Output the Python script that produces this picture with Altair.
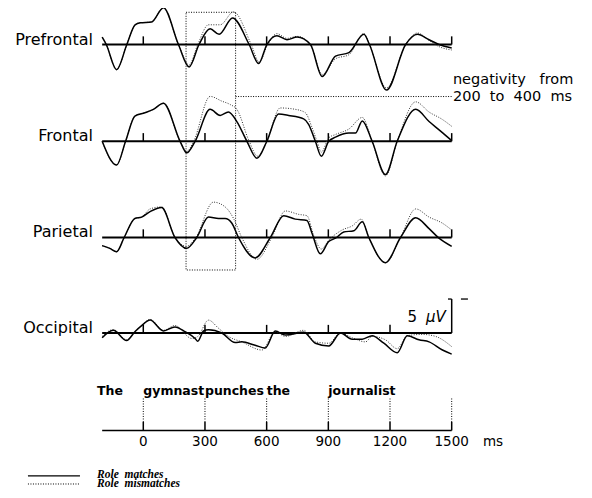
import altair as alt
import pandas as pd

# ---------------- data (time in ms, amplitude in microvolts; negative plotted up) -------------
REGIONS = ["Prefrontal", "Frontal", "Parietal", "Occipital"]
OFFSETS = [66.69, 52.46, 38.31, 24.26]   # vertical placement of each panel baseline

PF_S_T = [-200, -180, -130, -80, -40, -15, 40, 98, 171, 223, 271, 325, 369, 434, 515, 561, 601, 650, 699, 748, 813, 870, 935, 1000, 1073, 1100, 1183, 1276, 1333, 1390, 1438, 1500]
PF_S_V = [-1.1, 0.0, 3.7, 0.0, -2.9, -3.2, -3.3, -5.4, 0.0, 3.3, 0.0, -2.3, -1.5, -3.9, 0.0, 2.8, 0.0, -1.3, -0.7, -1.1, 0.0, 4.7, 1.7, 1.2, -1.5, 0.0, 6.7, 0.0, -1.5, -0.7, 0.0, 0.5]
PF_D_T = [-200, -180, -130, -80, -40, -15, 40, 98, 171, 223, 265, 317, 374, 439, 525, 564, 605, 650, 699, 748, 813, 870, 935, 1000, 1073, 1100, 1183, 1276, 1333, 1390, 1438, 1500]
PF_D_V = [-1.1, 0.0, 3.7, 0.0, -2.9, -3.2, -3.3, -5.4, 0.0, 3.0, 0.0, -2.9, -2.9, -4.8, 0.0, 2.6, 0.0, -1.6, -0.9, -1.2, 0.0, 4.4, 2.1, 1.5, -1.6, 0.0, 6.4, 0.0, -1.7, -0.6, 0.3, 0.8]

FR_S_T = [-200, -130, -86, -41, 8, 49, 98, 179, 211, 252, 325, 374, 414, 455, 504, 553, 601, 658, 707, 780, 804, 837, 866, 902, 935, 1000, 1032, 1065, 1113, 1178, 1235, 1325, 1390, 1446, 1500]
FR_S_V = [0.0, 3.5, 0.0, -3.7, -4.2, -4.7, -5.6, 0.0, 1.7, 0.0, -4.7, -3.8, -4.3, -2.9, 0.0, 2.5, 0.0, -4.0, -3.8, -3.3, -2.5, 0.0, 2.2, 0.0, -0.6, -1.2, -1.2, -3.0, 0.0, 4.9, 0.0, -4.7, -2.9, -1.5, -0.1]
FR_D_T = [-200, -130, -86, -41, 8, 49, 98, 179, 211, 245, 325, 382, 423, 455, 515, 556, 601, 666, 739, 788, 821, 845, 866, 902, 935, 1000, 1065, 1113, 1178, 1235, 1325, 1390, 1455, 1500]
FR_D_V = [0.0, 3.5, 0.0, -3.7, -4.2, -4.7, -5.6, 0.0, 1.5, 0.0, -6.6, -5.9, -5.4, -4.7, 0.0, 2.2, 0.0, -4.9, -4.7, -4.2, -2.0, 0.0, 1.6, -0.5, -1.0, -1.8, -3.5, 0.0, 5.1, 0.0, -5.8, -4.3, -3.2, -2.2]

PA_S_T = [-200, -163, -130, -93, -41, -8, 33, 89, 154, 211, 260, 317, 366, 398, 431, 463, 544, 618, 683, 739, 796, 821, 861, 902, 935, 975, 1024, 1065, 1097, 1178, 1251, 1325, 1390, 1438, 1500]
PA_S_V = [1.2, 1.6, 2.1, 0.0, -2.8, -3.0, -3.8, -4.4, 0.0, 1.6, 0.0, -3.0, -2.8, -2.8, -2.1, 0.0, 3.0, 0.0, -3.2, -2.7, -2.5, -0.6, 2.4, 0.6, 0.1, -0.8, -1.0, -2.3, 0.0, 3.7, 0.0, -2.9, -1.3, 0.1, 1.3]
PA_D_T = [-200, -163, -130, -93, -41, -8, 33, 89, 154, 211, 255, 341, 398, 439, 479, 553, 625, 691, 756, 796, 829, 866, 902, 967, 1016, 1060, 1097, 1178, 1251, 1325, 1390, 1455, 1500]
PA_D_V = [1.2, 1.6, 2.1, 0.0, -2.8, -3.0, -4.2, -4.5, 0.0, 1.3, 0.0, -5.2, -4.5, -2.8, 0.0, 3.2, 0.0, -3.9, -3.4, -3.2, -0.3, 1.7, 0.4, -1.1, -1.7, -2.7, 0.0, 3.7, 0.0, -4.2, -3.0, -2.1, -1.1]

OC_S_T = [-200, -146, -81, -41, -8, 33, 98, 154, 203, 252, 265, 293, 317, 382, 447, 479, 544, 593, 642, 691, 780, 837, 902, 959, 1016, 1065, 1113, 1170, 1235, 1284, 1341, 1390, 1455, 1500]
OC_S_V = [0.7, -0.4, 1.1, -0.2, -1.1, -1.9, -0.3, -0.9, -0.2, 0.8, 1.2, -0.3, -0.5, 0.0, 1.4, 1.3, 1.8, 2.2, -0.3, 0.3, -0.1, 1.5, 1.9, 0.0, 0.9, 0.9, 0.4, 1.5, 2.9, 0.4, 1.0, 1.3, 2.5, 3.1]
OC_D_T = [-200, -146, -81, -41, -8, 33, 98, 154, 236, 265, 317, 366, 414, 479, 577, 642, 691, 780, 837, 902, 959, 1016, 1081, 1113, 1178, 1235, 1284, 1357, 1422, 1500]
OC_D_V = [0.5, -0.5, 1.0, -0.2, -1.1, -2.0, -0.4, -1.1, 0.8, 0.5, -1.9, -0.7, 0.5, 1.3, 2.5, -0.2, 0.5, -0.4, 1.3, 1.5, 0.0, 0.7, 1.3, 0.5, 1.0, 2.3, 0.4, 0.2, 0.5, 2.0]

TICKS = [0, 300, 600, 900, 1200, 1500]
TICK_LABELS = ["0", "300", "600", "900", "1200", "1500"]
WORDS = ["The", "gymnast", "punches", "the", "journalist"]
WORD_T = [-225, 0, 300, 600, 900]
T_START, T_END = -200, 1500
WINDOW = [208, 449]          # highlighted window (ms)
SCALE_UV = 5
NB = "\u00a0"

# ---------------- build tables -------------
solid = {"Prefrontal": (PF_S_T, PF_S_V), "Frontal": (FR_S_T, FR_S_V),
         "Parietal": (PA_S_T, PA_S_V), "Occipital": (OC_S_T, OC_S_V)}
dotted = {"Prefrontal": (PF_D_T, PF_D_V), "Frontal": (FR_D_T, FR_D_V),
          "Parietal": (PA_D_T, PA_D_V), "Occipital": (OC_D_T, OC_D_V)}
off = dict(zip(REGIONS, OFFSETS))

def traces(d):
    rows = []
    for r, (ts, vs) in d.items():
        for i, (t, v) in enumerate(zip(ts, vs)):
            rows.append({"region": r, "t": t, "Y": off[r] - v, "i": i})
    return pd.DataFrame(rows)

df_s = traces(solid)
df_d = traces(dotted)

base_df = pd.DataFrame({"region": REGIONS, "x0": T_START, "x1": T_END, "Y": OFFSETS})
tick_rows = []
for r in REGIONS:
    for t in TICKS:
        top = off[r] + (SCALE_UV if (r == "Occipital" and t == 1500) else 1.2)
        tick_rows.append({"t": t, "y0": off[r], "y1": top})
tick_df = pd.DataFrame(tick_rows)

AX_Y = 9.93
axis_df = pd.DataFrame({"x0": [T_START], "x1": [T_END], "Y": [AX_Y]})
axtick_df = pd.DataFrame({"t": TICKS, "y0": AX_Y, "y1": 11.18})
axdot_df = pd.DataFrame({"t": TICKS, "y0": 11.18, "y1": 14.71})
ticklab_df = pd.DataFrame({"t": TICKS, "lab": TICK_LABELS, "Y": 7.72})
word_df = pd.DataFrame({"t": WORD_T, "w": WORDS, "Y": 15.15})
label_df = pd.DataFrame({"region": REGIONS, "t": -245, "Y": OFFSETS})

xs = alt.Scale(domain=[-658, 2143.5], nice=False, zero=False)
ys = alt.Scale(domain=[1.47, 72.06], nice=False, zero=False)
X = lambda f: alt.X(f, scale=xs, axis=None)
Y = lambda f: alt.Y(f, scale=ys, axis=None)
FONT = "DejaVu Sans"
DOT = [1, 1.5]

dotted_lines = alt.Chart(df_d).mark_line(interpolate="monotone", color="#333", strokeWidth=1,
                                         strokeDash=DOT).encode(
    x=X("t:Q"), y=Y("Y:Q"), detail="region:N", order="i:Q")
solid_lines = alt.Chart(df_s).mark_line(interpolate="monotone", color="black", strokeWidth=1.5).encode(
    x=X("t:Q"), y=Y("Y:Q"), detail="region:N", order="i:Q")

baselines = alt.Chart(base_df).mark_rule(color="black", strokeWidth=2).encode(
    x=X("x0:Q"), x2="x1:Q", y=Y("Y:Q"))
ticks = alt.Chart(tick_df).mark_rule(color="black", strokeWidth=1.5).encode(
    x=X("t:Q"), y=Y("y0:Q"), y2="y1:Q")

occ = off["Occipital"] + SCALE_UV
scale_df = pd.DataFrame({"x0": [1482, 1545], "x1": [1500, 1579], "Y": [occ, occ]})
scale_marks = alt.Chart(scale_df).mark_rule(color="black", strokeWidth=1.3).encode(
    x=X("x0:Q"), x2="x1:Q", y=Y("Y:Q"))
uv_df = pd.DataFrame({"t": [1331], "Y": [25.88], "s": ["5"]})
uv5 = alt.Chart(uv_df).mark_text(align="right", baseline="alphabetic", font=FONT, fontSize=15).encode(
    x=X("t:Q"), y=Y("Y:Q"), text="s:N")
uv_df2 = pd.DataFrame({"t": [1375], "Y": [25.88], "s": ["μV"]})
uvu = alt.Chart(uv_df2).mark_text(align="left", baseline="alphabetic", font=FONT, fontSize=15,
                                  fontStyle="italic").encode(x=X("t:Q"), y=Y("Y:Q"), text="s:N")

box_df = pd.DataFrame({"x0": [WINDOW[0]], "x1": [WINDOW[1]], "y0": [33.53], "y1": [71.43]})
box = alt.Chart(box_df).mark_rect(filled=False, stroke="black", strokeWidth=1,
                                  strokeDash=DOT).encode(
    x=X("x0:Q"), x2="x1:Q", y=Y("y0:Q"), y2="y1:Q")
lead_df = pd.DataFrame({"x0": [WINDOW[1]], "x1": [T_END], "Y": [59.04]})
lead = alt.Chart(lead_df).mark_rule(color="black", strokeWidth=1, strokeDash=DOT).encode(
    x=X("x0:Q"), x2="x1:Q", y=Y("Y:Q"))
neg_df = pd.DataFrame({"t": [1506, 1506], "Y": [60.88, 58.31],
                       "s": ["negativity" + NB * 3 + "from",
                             "200" + NB * 2 + "to" + NB * 2 + "400" + NB * 2 + "ms"]})
neg = alt.Chart(neg_df).mark_text(align="left", baseline="alphabetic", font=FONT, fontSize=14.5).encode(
    x=X("t:Q"), y=Y("Y:Q"), text="s:N")

labels = alt.Chart(label_df).mark_text(align="right", baseline="alphabetic", font=FONT,
                                       fontSize=16).encode(x=X("t:Q"), y=Y("Y:Q"), text="region:N")

axis_line = alt.Chart(axis_df).mark_rule(color="black", strokeWidth=1.5).encode(
    x=X("x0:Q"), x2="x1:Q", y=Y("Y:Q"))
axis_ticks = alt.Chart(axtick_df).mark_rule(color="black", strokeWidth=1.5).encode(
    x=X("t:Q"), y=Y("y0:Q"), y2="y1:Q")
axis_dots = alt.Chart(axdot_df).mark_rule(color="black", strokeWidth=1, strokeDash=DOT).encode(
    x=X("t:Q"), y=Y("y0:Q"), y2="y1:Q")
tick_labels = alt.Chart(ticklab_df).mark_text(align="center", baseline="alphabetic", font=FONT,
                                              fontSize=13.5).encode(x=X("t:Q"), y=Y("Y:Q"), text="lab:N")
ms_df = pd.DataFrame({"t": [1652], "Y": [7.72], "s": ["ms"]})
ms_lab = alt.Chart(ms_df).mark_text(align="left", baseline="alphabetic", font=FONT, fontSize=13.5).encode(
    x=X("t:Q"), y=Y("Y:Q"), text="s:N")
words = alt.Chart(word_df).mark_text(align="left", baseline="alphabetic", font=FONT, fontSize=12.5,
                                     fontWeight="bold").encode(
    x=X("t:Q"), y=Y("Y:Q"), text="w:N")

leg_df = pd.DataFrame({"x0": [-561], "x1": [-308], "Y": [3.24]})
leg_solid = alt.Chart(leg_df).mark_rule(color="black", strokeWidth=1.3).encode(
    x=X("x0:Q"), x2="x1:Q", y=Y("Y:Q"))
leg_df2 = pd.DataFrame({"x0": [-561], "x1": [-308], "Y": [2.06]})
leg_dot = alt.Chart(leg_df2).mark_rule(color="black", strokeWidth=1, strokeDash=DOT).encode(
    x=X("x0:Q"), x2="x1:Q", y=Y("Y:Q"))
legtxt_df = pd.DataFrame({"t": [-225, -225], "Y": [3.01, 1.62],
                          "s": ["Role" + NB + " matches", "Role" + NB + " mismatches"]})
leg_txt = alt.Chart(legtxt_df).mark_text(align="left", baseline="alphabetic", font="Liberation Serif",
                                         fontSize=11.5, fontStyle="italic", fontWeight="bold").encode(
    x=X("t:Q"), y=Y("Y:Q"), text="s:N")

chart = alt.layer(
    box, lead, baselines, ticks, scale_marks, dotted_lines, solid_lines, uv5, uvu, neg, labels,
    axis_line, axis_ticks, axis_dots, tick_labels, ms_lab, words, leg_solid, leg_dot, leg_txt
).properties(width=576, height=480, padding=0, autosize="none").configure_view(stroke=None)

chart.save("out.html", embed_options={"renderer": "svg", "actions": False})
